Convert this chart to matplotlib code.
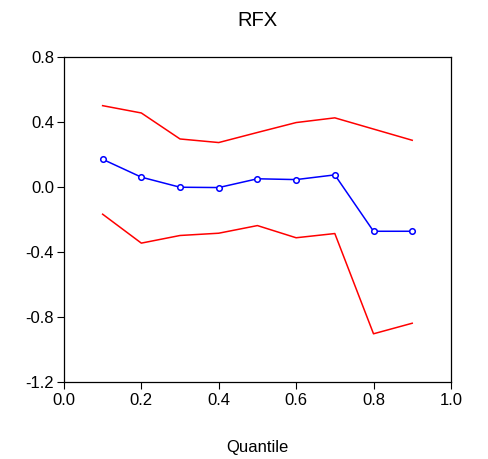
import matplotlib
matplotlib.use("Agg")
import matplotlib.pyplot as plt

plt.rcParams['font.family'] = ['Liberation Sans', 'DejaVu Sans']

quantiles = [0.1, 0.2, 0.3, 0.4, 0.5, 0.6, 0.7, 0.8, 0.9]
coef = [0.170, 0.060, -0.002, -0.004, 0.050, 0.045, 0.074, -0.273, -0.273]
upper = [0.500, 0.455, 0.295, 0.273, 0.335, 0.396, 0.425, 0.356, 0.287]
lower = [-0.168, -0.346, -0.299, -0.285, -0.238, -0.313, -0.287, -0.904, -0.839]

fig = plt.figure(figsize=(4.88, 4.59), dpi=100)
ax = fig.add_axes([0.131, 0.168, 0.793, 0.708])

# confidence band edges in red, quantile coefficients in blue
ax.plot(quantiles, upper, color='#ff0000', lw=1.1)
ax.plot(quantiles, lower, color='#ff0000', lw=1.1)
ax.plot(quantiles, coef, color='#0000ff', lw=1.1, marker='o', ms=4,
        mfc='white', mec='#0000ff', mew=1.1)

ax.set_xlim(0.0, 1.0)
ax.set_ylim(-1.2, 0.8)
ax.set_xticks([0.0, 0.2, 0.4, 0.6, 0.8, 1.0])
ax.set_yticks([-1.2, -0.8, -0.4, 0.0, 0.4, 0.8])
ax.set_xticklabels(['0.0', '0.2', '0.4', '0.6', '0.8', '1.0'])
ax.set_yticklabels(['-1.2', '-0.8', '-0.4', '0.0', '0.4', '0.8'])
ax.tick_params(direction='out', length=5, width=0.8, labelsize=12, colors='black')
ax.tick_params(axis='x', pad=3)
ax.tick_params(axis='y', pad=2)
for s in ax.spines.values():
    s.set_linewidth(0.9)

ax.set_title('RFX', fontsize=14.5, pad=22)
ax.set_xlabel('Quantile', fontsize=12, labelpad=23)

fig.savefig('out.png', dpi=100)
